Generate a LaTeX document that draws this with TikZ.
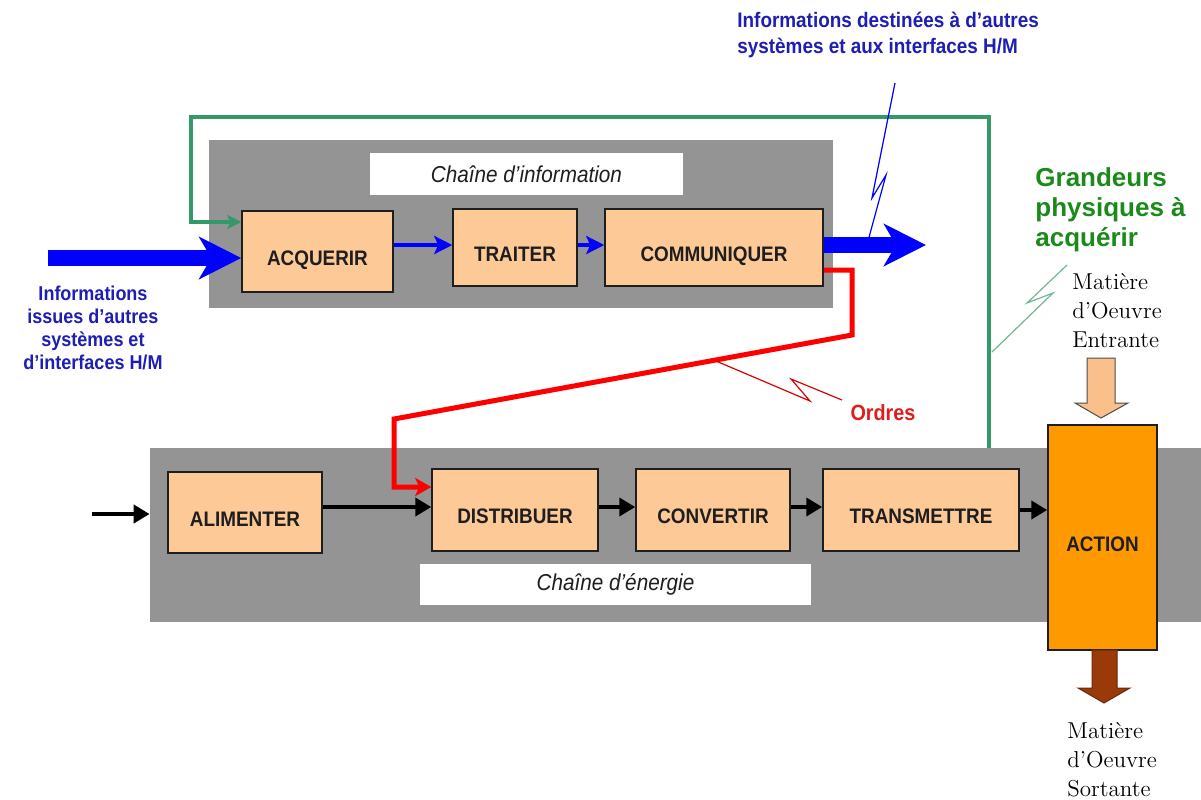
\documentclass[tikz,border=0pt]{standalone}
\usepackage{fontspec}
\usepackage{tikz}
\usetikzlibrary{arrows.meta,calc}
\newfontfamily\etroite[FakeStretch=0.9]{Liberation Sans}
\newfontfamily\arial{Liberation Sans}
\definecolor{gris}{HTML}{949494}
\definecolor{peche}{HTML}{FCC997}
\definecolor{pechef}{HTML}{F9C08C}
\definecolor{orangeact}{HTML}{FF9900}
\definecolor{marron}{HTML}{9A3A0A}
\definecolor{bord}{HTML}{1E1E1E}
\definecolor{bleu}{HTML}{0000FF}
\definecolor{bleutxt}{HTML}{1E1EB4}
\definecolor{rouge}{HTML}{FF0000}
\definecolor{rougetxt}{HTML}{E01B1B}
\definecolor{vert}{HTML}{339966}
\definecolor{verttxt}{HTML}{1A8A1A}
\tikzset{
  chaine/.style={fill=gris, inner sep=0pt},
  titre/.style={fill=white, inner sep=0pt, text=bord, font=\etroite\itshape\fontsize{11.5}{13}\selectfont},
  bloc/.style={draw=bord, fill=peche, line width=0.75pt, inner sep=0pt, text height=13.5pt, text depth=0pt,
    text=bord, font=\etroite\bfseries\fontsize{10.5}{12}\selectfont},
  grosbleu/.style={draw=bleu, line width=8pt, -{Stealth[length=21pt,width=21pt,inset=6pt]}},
  fbleu/.style={draw=bleu, line width=2pt, -{Stealth[length=9pt,width=9pt,inset=2pt]}},
  fnoir/.style={draw=black, line width=2pt, -{Triangle[length=8pt,width=9pt]}},
  ordre/.style={draw=rouge, line width=2.5pt, -{Stealth[length=8pt,width=9pt,inset=2pt]}},
  grandeur/.style={draw=vert, line width=1.8pt, -{Stealth[length=7pt,width=7pt,inset=1.5pt]}},
  eclair/.style={line width=0.6pt},
  txtbleu/.style={text=bleutxt, inner sep=0pt, font=\etroite\bfseries\fontsize{10.5}{13}\selectfont},
  grtxt/.style={text=verttxt, inner sep=0pt, align=left, font=\arial\bfseries\fontsize{13}{15}\selectfont},
  matiere/.style={inner sep=0pt, align=left, font=\fontsize{11.5}{14.5}\selectfont},
}

\begin{document}
\begin{tikzpicture}[x=0.5pt,y=-0.5pt]
  \fill[white] (0,0) rectangle (1201,799);
  \useasboundingbox (0,0) rectangle (1201,799);

  \coordinate (infoin) at (48,258);
  \coordinate (infoout) at (926,245);
  \coordinate (ein) at (92,514);
  \coordinate (r1) at (852,270);
  \coordinate (r2) at (852,335);
  \coordinate (r3) at (394,419);
  \coordinate (r4) at (394,487);
  \coordinate (g0) at (989,448);
  \coordinate (g1) at (989,117);
  \coordinate (g2) at (191,117);
  \coordinate (g3) at (191,222);

  % chaine d'information
  \node[chaine, minimum width=312pt, minimum height=84pt] (info) at (521,224) {};
  \node[titre, minimum width=156.5pt, minimum height=21pt] (tinfo) at (526.5,174) {Chaîne d’information};
  \node[bloc, minimum width=75.5pt, minimum height=40.5pt] (acq) at (317.5,251.5) {ACQUERIR};
  \node[bloc, minimum width=62pt, minimum height=38.5pt] (trait) at (515,247.5) {TRAITER};
  \node[bloc, minimum width=109pt, minimum height=38.5pt] (comm) at (714,247.5) {COMMUNIQUER};

  % chaine d'energie
  \node[chaine, minimum width=525.5pt, minimum height=87pt] (energie) at (675.5,535) {};
  \node[titre, minimum width=195.5pt, minimum height=20.5pt] (tenergie) at (615.5,584.5) {Chaîne d’énergie};
  \node[bloc, minimum width=77pt, minimum height=40.5pt] (alim) at (245,512.5) {ALIMENTER};
  \node[bloc, minimum width=83pt, minimum height=41pt] (distr) at (515,510) {DISTRIBUER};
  \node[bloc, minimum width=77pt, minimum height=41pt] (conv) at (713,510) {CONVERTIR};
  \node[bloc, minimum width=98pt, minimum height=41pt] (trans) at (921,510) {TRANSMETTRE};
  \node[bloc, fill=orangeact, minimum width=54.5pt, minimum height=112.5pt] (action) at (1102.5,537.5) {ACTION};

  % matiere d'oeuvre
  \filldraw[fill=pechef, draw=gray!60!black, line width=0.5pt] (1087,358) -- (1115,358) -- (1115,403) -- (1128,403)
    -- (1101,418) -- (1075,403) -- (1087,403) -- cycle;
  \filldraw[fill=marron, draw=marron!70!black, line width=0.5pt] (1092,650) -- (1117,650) -- (1117,688) -- (1130,688)
    -- (1104,703) -- (1078,688) -- (1092,688) -- cycle;

  % liaisons
  \draw[grosbleu] (infoin) -- (infoin -| acq.west);
  \draw[grosbleu] (comm.east |- infoout) -- (infoout);
  \draw[fbleu] (acq.east |- 0,245) -- (trait.west |- 0,245);
  \draw[fbleu] (trait.east |- 0,245) -- (comm.west |- 0,245);
  \draw[fnoir] (ein) -- (ein -| energie.west);
  \draw[fnoir] (alim.east |- 0,507) -- (distr.west |- 0,507);
  \draw[fnoir] (distr.east |- 0,507) -- (conv.west |- 0,507);
  \draw[fnoir] (conv.east |- 0,507) -- (trans.west |- 0,507);
  \draw[fnoir] (trans.east |- 0,510) -- (action.west |- 0,510);
  \draw[ordre] (comm.east |- r1) -- (r1) -- (r2) -- (r3) -- (r4) -- (r4 -| distr.west);
  \draw[grandeur] (g0) -- (g1) -- (g2) -- (g3) -- (g3 -| acq.west);

  % eclairs
  \draw[eclair, draw=bleu] (895,83) -- (872,198) -- (886,175) -- (868,241);
  \draw[eclair, draw=rouge!85!black] (716,361) -- (810,401) -- (791,379) -- (842,400);
  \draw[eclair, draw=vert!70] (1067,265) -- (1027,303) -- (1053,293) -- (992,352);

  % textes
  \node[txtbleu, anchor=west, align=left] (dest) at (737,35) {Informations destinées à d’autres\\systèmes et aux interfaces H/M};
  \node[txtbleu, align=center, font=\etroite\bfseries\fontsize{10}{11.5}\selectfont] (issues) at (93,328)
    {Informations\\issues d’autres\\systèmes et\\d’interfaces H/M};
  \node[grtxt, anchor=west] (grandeurs) at (1035,210) {Grandeurs\\physiques à\\acquérir};
  \node[matiere, anchor=west] (mentree) at (1072,311) {Matière\\d’Oeuvre\\Entrante};
  \node[matiere, anchor=west] (msortie) at (1067,760) {Matière\\d’Oeuvre\\Sortante};
  \node[text=rougetxt, inner sep=0pt, font=\etroite\bfseries\fontsize{11}{13}\selectfont] (ordres) at (883,413) {Ordres};
\end{tikzpicture}
\end{document}
